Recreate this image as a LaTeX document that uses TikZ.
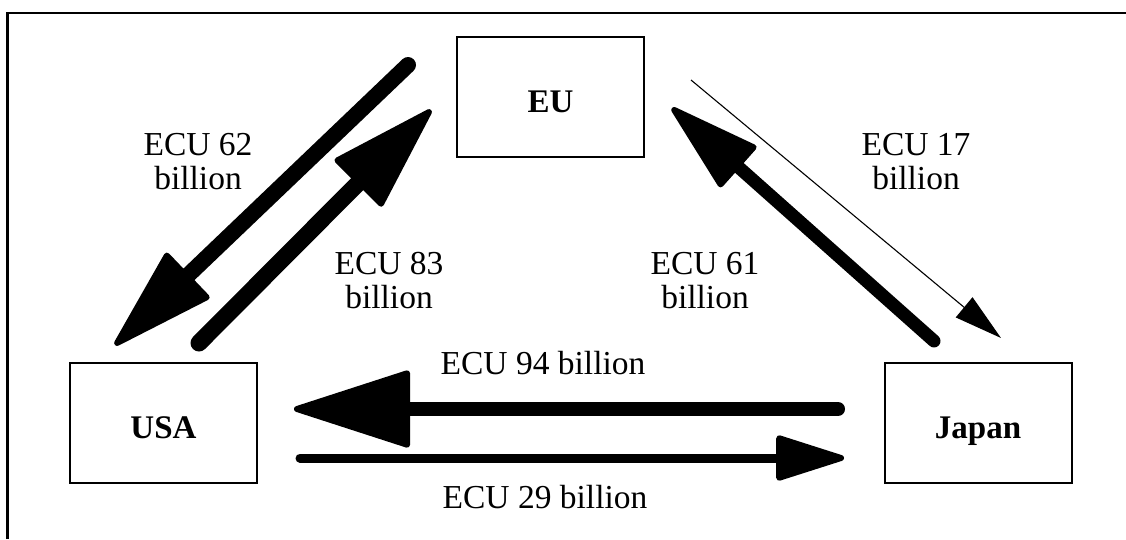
\documentclass[tikz,border=0pt]{standalone}
\usepackage{fontspec}
\setmainfont{Liberation Serif}
\usetikzlibrary{arrows.meta}

\tikzset{
  region/.style={draw, line width=2pt, minimum width=187pt, minimum height=120pt,
    inner sep=0pt, text height=30pt, text depth=0pt,
    font=\fontsize{33}{34}\selectfont\bfseries},
  amount/.style={inner sep=0pt, align=center, font=\fontsize{33.5}{34}\selectfont},
  flow/.style n args={3}{line width=#1, line cap=round,
    -{Triangle[length=#2, width=#3, round, line width=6pt]}},
  thinflow/.style={line width=1.1pt, -{Triangle[length=48pt, width=26pt]}}
}

\begin{document}
\begin{tikzpicture}[x=1pt, y=-1pt]
  \useasboundingbox (0,0) rectangle (1126,539);

  % frame (open on the right and at the bottom)
  \draw[line width=2.5pt] (7.5,539) -- (7.5,13) -- (1126,13);

  % trading blocs
  \node[region] (eu)    at (550.5,97) {EU};
  \node[region] (usa)   at (163.5,423) {USA};
  \node[region] (japan) at (978,423) {Japan};

  % ends of the trade flows
  \coordinate (a62s) at (408,65);   \coordinate (a62e) at (115,345);
  \coordinate (a83s) at (199,343);  \coordinate (a83e) at (431,110);
  \coordinate (a61s) at (934,341);  \coordinate (a61e) at (672,108);
  \coordinate (a17s) at (691,80);   \coordinate (a17e) at (1001,338);
  \coordinate (a94s) at (838,409);  \coordinate (a94e) at (294,409);
  \coordinate (a29s) at (300,458);  \coordinate (a29e) at (844,458);

  % flows
  \draw[flow={16pt}{110pt}{64pt}] (a62s) -- (a62e);
  \draw[flow={17pt}{112pt}{68pt}] (a83s) -- (a83e);
  \draw[flow={13pt}{98pt}{56pt}]  (a61s) -- (a61e);
  \draw[thinflow]                 (a17s) -- (a17e);
  \draw[flow={14pt}{123pt}{78pt}] (a94s) -- (a94e);
  \draw[flow={9pt}{75pt}{46pt}]   (a29s) -- (a29e);

  % amounts
  \node[amount, anchor=south] (l62) at (198,190) {ECU 62\\billion};
  \node[amount, anchor=south] (l83) at (389,309) {ECU 83\\billion};
  \node[amount, anchor=south] (l61) at (705,309) {ECU 61\\billion};
  \node[amount, anchor=south] (l17) at (916,190) {ECU 17\\billion};
  \node[amount, anchor=base]  (l94) at (543,374) {ECU 94 billion};
  \node[amount, anchor=base]  (l29) at (545,508) {ECU 29 billion};
\end{tikzpicture}
\end{document}
